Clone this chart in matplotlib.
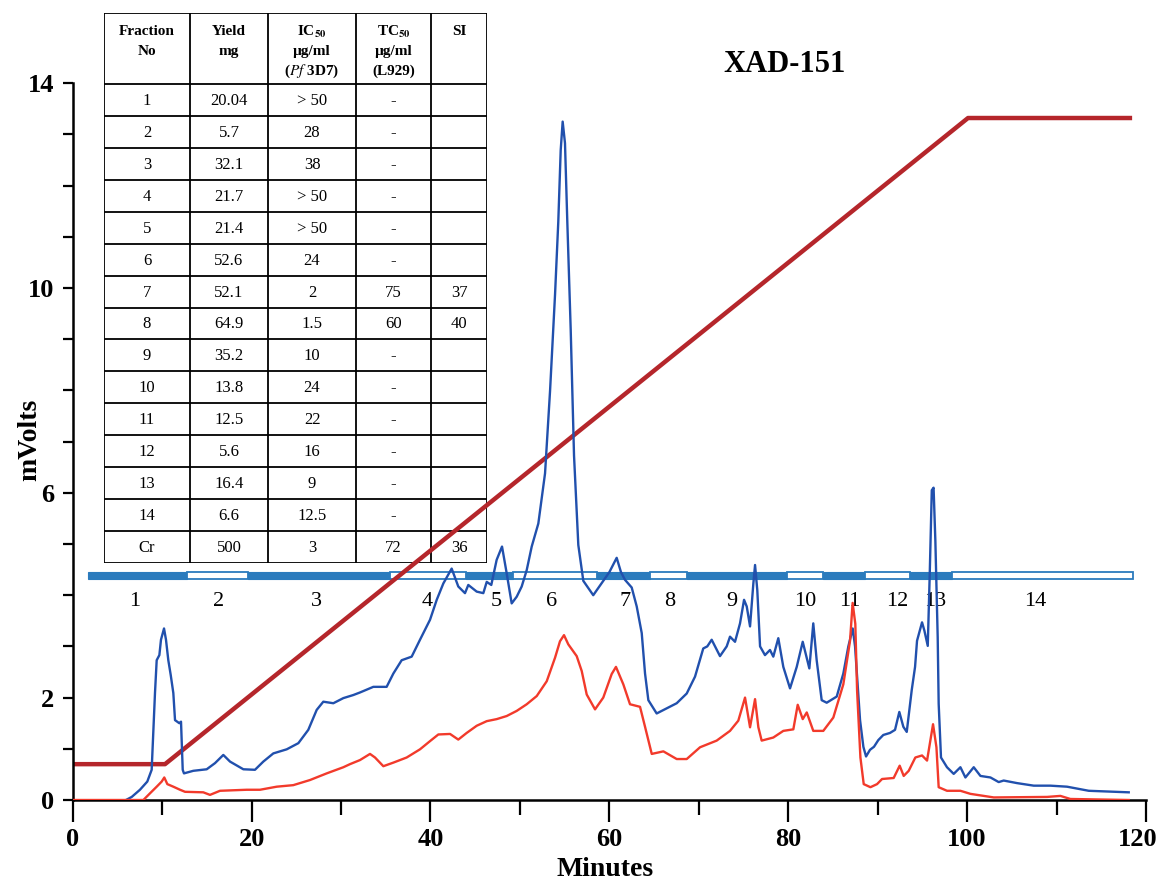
import matplotlib.pyplot as plt
import matplotlib.transforms as mtransforms
from matplotlib.patches import Rectangle

# chromatogram traces (minutes, mVolts)
blue_t = [5.96, 6.6, 7.52, 8.34, 8.83, 9.01, 9.2, 9.39, 9.69, 9.87, 10.21, 10.43, 10.69, 10.96,
          11.25, 11.44, 11.92, 12.11, 12.3, 12.44, 13.48, 14.98, 15.91, 16.84, 17.59, 19.08,
          20.38, 21.31, 22.43, 23.93, 25.23, 26.34, 27.28, 28.02, 29.14, 30.26, 31.37, 32.12,
          33.61, 35.1, 35.85, 36.78, 37.9, 38.83, 39.95, 40.7, 41.44, 42.37, 43.11, 43.86,
          44.23, 45.17, 45.91, 46.29, 46.8, 47.4, 48.0, 48.52, 49.08, 49.64, 50.2, 50.76,
          51.32, 52.06, 52.81, 53.37, 53.93, 54.29, 54.56, 54.78, 55.04, 55.3, 55.68, 56.05,
          56.53, 57.09, 58.2, 59.32, 60.0, 60.82, 61.3, 61.75, 62.5, 63.06, 63.62, 63.99,
          64.36, 65.29, 66.41, 67.53, 68.65, 69.58, 70.5, 70.95, 71.44, 72.37, 73.12, 73.49,
          74.05, 74.61, 75.06, 75.36, 75.73, 76.1, 76.29, 76.54, 76.85, 77.4, 77.96, 78.33,
          78.89, 79.45, 80.2, 80.95, 81.62, 82.07, 82.36, 82.8, 83.18, 83.74, 84.3, 85.42,
          86.16, 86.72, 87.21, 87.47, 87.73, 88.03, 88.4, 88.7, 89.14, 89.59, 90.07, 90.63,
          91.38, 91.94, 92.42, 92.87, 93.25, 93.81, 94.18, 94.4, 94.96, 95.22, 95.6, 95.82,
          96.05, 96.25, 96.45, 96.71, 96.82, 97.08, 97.75, 98.5, 99.25, 99.81, 100.74,
          101.49, 102.61, 103.53, 104.09, 105.58, 107.45, 109.31, 111.17, 113.6, 118.07]
blue_v = [0.0, 0.06, 0.2, 0.36, 0.59, 1.31, 2.09, 2.73, 2.83, 3.13, 3.35, 3.13, 2.73, 2.44,
          2.09, 1.56, 1.5, 1.53, 0.59, 0.52, 0.57, 0.6, 0.72, 0.88, 0.75, 0.6,
          0.59, 0.75, 0.91, 0.99, 1.11, 1.37, 1.76, 1.92, 1.89, 1.99, 2.05, 2.1,
          2.21, 2.21, 2.47, 2.73, 2.8, 3.13, 3.52, 3.91, 4.23, 4.52, 4.17, 4.04,
          4.2, 4.07, 4.04, 4.26, 4.2, 4.69, 4.95, 4.43, 3.84, 3.97, 4.17, 4.49,
          4.95, 5.4, 6.38, 7.99, 9.88, 11.29, 12.69, 13.25, 12.83, 11.29, 9.18, 6.73,
          4.98, 4.28, 4.0, 4.28, 4.45, 4.73, 4.45, 4.3, 4.15, 3.78, 3.26, 2.47,
          1.95, 1.69, 1.79, 1.89, 2.08, 2.41, 2.96, 3.0, 3.13, 2.81, 3.0, 3.19,
          3.09, 3.45, 3.91, 3.78, 3.39, 4.23, 4.59, 4.1, 3.0, 2.83, 2.93, 2.8,
          3.16, 2.6, 2.18, 2.6, 3.09, 2.77, 2.57, 3.45, 2.73, 1.95, 1.9, 2.02,
          2.47, 3.0, 3.35, 3.0, 2.34, 1.56, 1.04, 0.85, 0.98, 1.04, 1.17, 1.27,
          1.31, 1.37, 1.72, 1.43, 1.33, 2.15, 2.6, 3.11, 3.47, 3.31, 3.01, 4.41,
          6.05, 6.1, 5.06, 3.18, 1.88, 0.83, 0.64, 0.51, 0.64, 0.44, 0.64,
          0.47, 0.44, 0.35, 0.38, 0.33, 0.28, 0.28, 0.26, 0.18, 0.15]

red_t = [0, 7.9, 8.64, 9.39, 9.95, 10.24, 10.58, 11.25, 12.0, 12.56, 14.6, 15.35, 16.47,
         19.45, 20.94, 22.81, 24.66, 26.53, 28.4, 30.26, 31.0, 32.12, 33.24, 33.8, 34.73,
         35.85, 37.34, 38.83, 39.95, 40.88, 42.19, 43.11, 44.05, 45.17, 46.29, 47.41,
         48.52, 49.64, 50.76, 51.88, 53.0, 53.93, 54.48, 54.93, 55.41, 56.35, 56.91, 57.47,
         58.4, 59.32, 60.26, 60.74, 61.56, 62.31, 63.43, 63.99, 64.74, 66.04, 67.53, 68.65,
         70.14, 72.0, 73.49, 74.42, 75.17, 75.73, 76.29, 76.66, 77.03, 78.33, 79.45, 80.57,
         81.06, 81.62, 82.07, 82.8, 83.92, 85.04, 86.16, 86.91, 87.2, 87.5, 87.7, 88.07,
         88.44, 89.19, 89.93, 90.49, 91.79, 92.46, 92.91, 93.47, 94.21, 94.96, 95.52, 96.19,
         96.57, 96.82, 97.75, 99.25, 100.37, 102.98, 108.94, 110.43, 111.54, 118.07]
red_v = [0, 0.0, 0.13, 0.26, 0.36, 0.44, 0.31, 0.26, 0.2, 0.16, 0.15, 0.1, 0.18,
         0.2, 0.2, 0.26, 0.29, 0.39, 0.52, 0.64, 0.7, 0.78, 0.9, 0.83, 0.66,
         0.73, 0.83, 0.99, 1.15, 1.28, 1.29, 1.18, 1.31, 1.45, 1.54, 1.58,
         1.64, 1.74, 1.87, 2.03, 2.32, 2.78, 3.1, 3.22, 3.04, 2.81, 2.52, 2.06,
         1.77, 2.0, 2.46, 2.6, 2.26, 1.87, 1.82, 1.43, 0.9, 0.95, 0.8, 0.8,
         1.03, 1.16, 1.35, 1.55, 2.0, 1.42, 1.97, 1.42, 1.16, 1.22, 1.35, 1.38,
         1.86, 1.58, 1.71, 1.35, 1.35, 1.61, 2.26, 3.11, 3.85, 3.44, 2.13, 0.83,
         0.31, 0.25, 0.31, 0.41, 0.43, 0.67, 0.47, 0.57, 0.83, 0.87, 0.77, 1.48,
         1.03, 0.25, 0.18, 0.18, 0.12, 0.05, 0.06, 0.08, 0.02, 0.0]

# solvent gradient
grad_t = [0, 10.32, 100.1, 118.2]
grad_v = [0.70, 0.70, 13.32, 13.32]

# fraction collection bar
frac_edges = [1.75, 12.75, 19.63, 35.48, 43.97, 49.27, 58.59, 64.55, 68.65, 79.83,
              83.92, 88.58, 93.64, 98.3, 118.55]
frac_names = ['1', '2', '3', '4', '5', '6', '7', '8', '9', '10', '11', '12', '13', '14']
frac_label_t = [6.98, 16.28, 27.2, 39.65, 47.33, 53.55, 61.75, 66.7, 73.68, 81.95,
                86.9, 92.24, 96.45, 107.64]

# inset table
fraction_no = ['1', '2', '3', '4', '5', '6', '7', '8', '9', '10', '11', '12', '13', '14', 'Cr']
yields = ['20.04', '5.7', '32.1', '21.7', '21.4', '52.6', '52.1', '64.9', '35.2', '13.8',
          '12.5', '5.6', '16.4', '6.6', '500']
ic50 = ['> 50', '28', '38', '> 50', '> 50', '24', '2', '1.5', '10', '24', '22', '16', '9',
        '12.5', '3']
tc50 = ['-', '-', '-', '-', '-', '-', '75', '60', '-', '-', '-', '-', '-', '-', '72']
si = ['', '', '', '', '', '', '37', '40', '', '', '', '', '', '', '36']
headers = [['Fraction', 'No'], ['Yield', 'mg'],
           [r'IC$_{\mathbf{50}}$', u'\u00b5g/ml', r'($\mathit{Pf}$ 3D7)'],
           [r'TC$_{\mathbf{50}}$', u'\u00b5g/ml', '(L929)'], ['SI']]

plt.rcParams['font.family'] = 'Liberation Serif'
plt.rcParams['mathtext.fontset'] = 'stix'

W, H = 1163, 882
fig = plt.figure(figsize=(W / 100, H / 100), dpi=100)

# table axes (below the main axes so the gradient line is drawn over it)
tab = fig.add_axes([104 / W, 1 - 563 / H, 383 / W, 550 / H], zorder=0)
tab.set_xlim(0, 383)
tab.set_ylim(550, 0)
tab.axis('off')
col_x = [0, 86, 164, 252, 327, 383]
head_h = 71
row_h = (550 - head_h) / len(fraction_no)
lw = 1.3
for cx in col_x:
    tab.plot([cx, cx], [0, 550], color='black', lw=lw, solid_capstyle='butt')
tab.plot([0, 383], [0, 0], color='black', lw=lw)
for i in range(len(fraction_no) + 1):
    yy = head_h + i * row_h
    tab.plot([0, 383], [yy, yy], color='black', lw=lw)
for j, lines in enumerate(headers):
    xc = (col_x[j] + col_x[j + 1]) / 2
    for k, line in enumerate(lines):
        tab.text(xc, 18.5 + 20 * k, line, ha='center', va='center', fontsize=11,
                 fontweight='bold')
columns = [fraction_no, yields, ic50, tc50, si]
for j, col in enumerate(columns):
    xc = (col_x[j] + col_x[j + 1]) / 2
    for i, val in enumerate(col):
        tab.text(xc, head_h + (i + 0.5) * row_h + 1, val, ha='center', va='center',
                 fontsize=12)

# main chart
ax = fig.add_axes([72.7 / W, 1 - 800 / H, (1146 - 72.7) / W, 793.6 / H], zorder=1)
ax.patch.set_alpha(0)
ax.set_xlim(0, 120)
ax.set_ylim(0, 15.5)

bar_c = '#2b7bbd'
for i in range(len(frac_names)):
    x0, x1 = frac_edges[i], frac_edges[i + 1]
    if i % 2 == 0:
        ax.add_patch(Rectangle((x0, 4.315), x1 - x0, 0.13, facecolor=bar_c,
                               edgecolor=bar_c, lw=0.8, zorder=1))
    else:
        ax.add_patch(Rectangle((x0, 4.315), x1 - x0, 0.13, facecolor='white',
                               edgecolor=bar_c, lw=1.3, zorder=1))
for name, t in zip(frac_names, frac_label_t):
    ax.text(t, 3.87, name, ha='center', va='center', fontsize=16)

ax.plot(grad_t, grad_v, color='#b5262b', lw=3.2, zorder=2)
ax.plot(blue_t, blue_v, color='#2150ad', lw=1.7, zorder=3)
ax.plot(red_t, red_v, color='#f23a2b', lw=1.7, zorder=4)

ax.text(79.6, 14.36, 'XAD-151', ha='center', va='center', fontsize=22, fontweight='bold')

ax.spines['top'].set_visible(False)
ax.spines['right'].set_visible(False)
ax.spines['left'].set_bounds(0, 14)
ax.spines['bottom'].set_bounds(0, 120)
ax.spines['left'].set_linewidth(1.8)
ax.spines['bottom'].set_linewidth(1.8)

ax.set_xticks(range(0, 121, 20))
ax.set_xticks(range(10, 120, 20), minor=True)
ax.set_yticks(range(0, 15))
ax.set_yticklabels([str(v) if v in (0, 2, 6, 10, 14) else '' for v in range(0, 15)])
ax.tick_params(axis='x', which='major', length=15.5, width=1.6, pad=5, labelsize=19)
ax.tick_params(axis='x', which='minor', length=10.5, width=1.6)
ax.tick_params(axis='y', length=7.5, width=1.6, pad=6, labelsize=19)
for lab in ax.get_xticklabels() + ax.get_yticklabels():
    lab.set_fontweight('bold')
# the last x label sits a little left of its tick, as in the source figure
last = ax.get_xticklabels()[-1]
last.set_transform(last.get_transform() +
                   mtransforms.ScaledTranslation(-0.08, 0, fig.dpi_scale_trans))

fig.text(605 / W, 1 - 870 / H, 'Minutes', ha='center', va='center', fontsize=20,
         fontweight='bold')
fig.text(30 / W, 1 - 440 / H, 'mVolts', ha='center', va='center', fontsize=20,
         fontweight='bold', rotation=90)

fig.savefig('out.png', dpi=100)
